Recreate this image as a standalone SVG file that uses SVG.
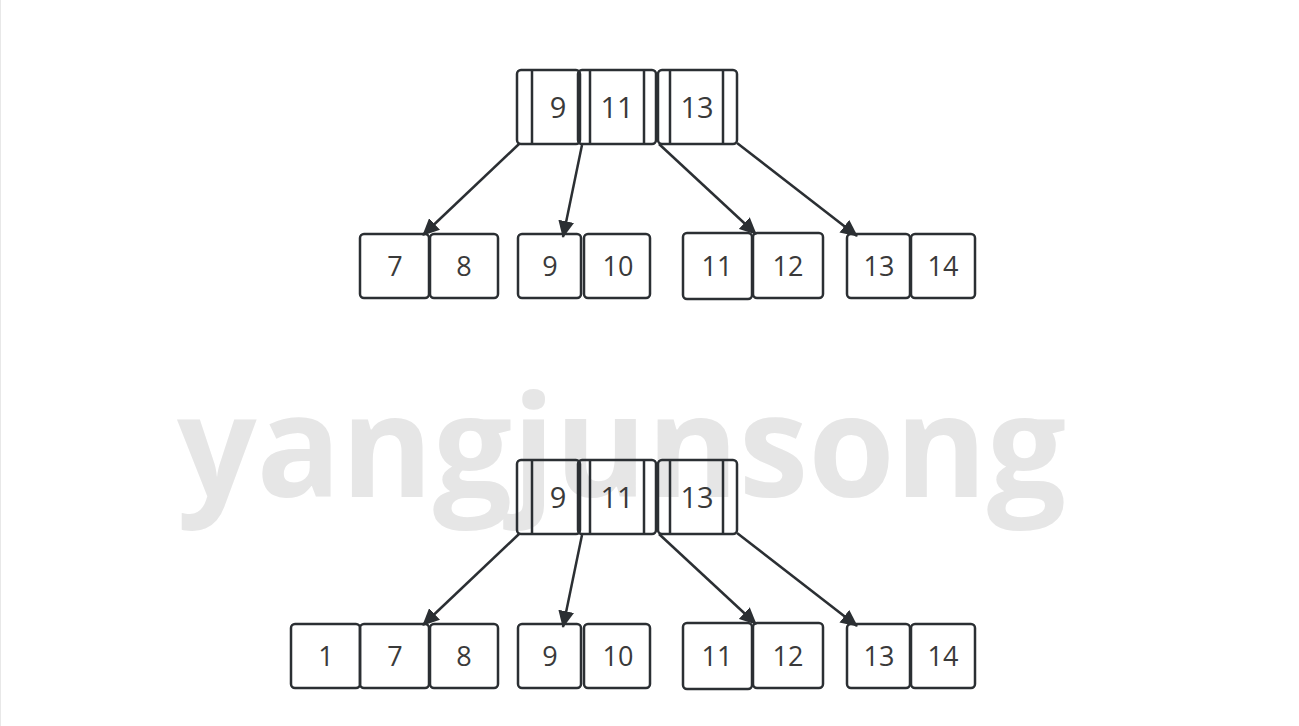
<svg xmlns="http://www.w3.org/2000/svg" width="1299" height="726" viewBox="0 0 1299 726">
<defs>
<style>
.b{fill:none;stroke:#2b2f33;stroke-width:2.5}
.l{stroke:#2b2f33;stroke-width:2.5}
.t{font-family:"Open Sans","Noto Sans",sans-serif;font-size:27px;font-weight:400;fill:#3a3a3a;text-anchor:middle;dominant-baseline:central}
.r{font-size:29px}
.c{stroke:#2b2f33;stroke-width:2.5;fill:none;marker-end:url(#ah)}
.wm{font-family:"Open Sans","Noto Sans",sans-serif;font-weight:bold;font-size:142px;fill:#e6e6e6}
</style>
<marker id="ah" markerUnits="userSpaceOnUse" markerWidth="18" markerHeight="16" refX="16" refY="8" orient="auto">
<path d="M0,0 L17,8 L0,16 Z" fill="#2b2f33"/>
</marker>
<g id="rootShape">
<rect class="b" x="517" y="70" width="63" height="74" rx="4"/>
<line class="l" x1="532" y1="70" x2="532" y2="144"/>
<rect class="b" x="578" y="70" width="78" height="74" rx="4"/>
<line class="l" x1="590" y1="70" x2="590" y2="144"/>
<line class="l" x1="644" y1="70" x2="644" y2="144"/>
<rect class="b" x="658" y="70" width="79" height="74" rx="4"/>
<line class="l" x1="670" y1="70" x2="670" y2="144"/>
<line class="l" x1="723" y1="70" x2="723" y2="144"/>
<text class="t r" x="558" y="106">9</text>
<text class="t r" x="617" y="106">11</text>
<text class="t r" x="697" y="106">13</text>
</g>
</defs>
<rect x="0" y="0" width="1299" height="726" fill="#fff"/>
<line x1="0.5" y1="0" x2="0.5" y2="726" stroke="#e8e8e8" stroke-width="1"/>
<text class="wm" x="177" y="497" textLength="889" lengthAdjust="spacingAndGlyphs">yangjunsong</text>

<g id="top-root"><use href="#rootShape"/></g>
<g id="top-leaf-7-8">
<rect class="b" x="360" y="234" width="69" height="64" rx="4"/><text class="t" x="395" y="265">7</text>
<rect class="b" x="430" y="234" width="68" height="64" rx="4"/><text class="t" x="464" y="265">8</text>
</g>
<g id="top-leaf-9-10">
<rect class="b" x="518" y="234" width="63" height="64" rx="4"/><text class="t" x="550" y="265">9</text>
<rect class="b" x="584" y="234" width="66" height="64" rx="4"/><text class="t" x="618" y="265">10</text>
</g>
<g id="top-leaf-11-12">
<rect class="b" x="683" y="233" width="69" height="66" rx="4"/><text class="t" x="717" y="265">11</text>
<rect class="b" x="753" y="233" width="70" height="65" rx="4"/><text class="t" x="788" y="265">12</text>
</g>
<g id="top-leaf-13-14">
<rect class="b" x="847" y="234" width="63" height="64" rx="4"/><text class="t" x="879" y="265">13</text>
<rect class="b" x="911" y="234" width="64" height="64" rx="4"/><text class="t" x="943" y="265">14</text>
</g>

<g id="bottom-root"><use href="#rootShape" y="390"/></g>
<g id="bottom-leaf-1-7-8">
<rect class="b" x="291" y="624" width="69" height="64" rx="4"/><text class="t" x="326" y="655">1</text>
<rect class="b" x="360" y="624" width="69" height="64" rx="4"/><text class="t" x="395" y="655">7</text>
<rect class="b" x="430" y="624" width="68" height="64" rx="4"/><text class="t" x="464" y="655">8</text>
</g>
<g id="bottom-leaf-9-10">
<rect class="b" x="518" y="624" width="63" height="64" rx="4"/><text class="t" x="550" y="655">9</text>
<rect class="b" x="584" y="624" width="66" height="64" rx="4"/><text class="t" x="618" y="655">10</text>
</g>
<g id="bottom-leaf-11-12">
<rect class="b" x="683" y="623" width="69" height="66" rx="4"/><text class="t" x="717" y="655">11</text>
<rect class="b" x="753" y="623" width="70" height="65" rx="4"/><text class="t" x="788" y="655">12</text>
</g>
<g id="bottom-leaf-13-14">
<rect class="b" x="847" y="624" width="63" height="64" rx="4"/><text class="t" x="879" y="655">13</text>
<rect class="b" x="911" y="624" width="64" height="64" rx="4"/><text class="t" x="943" y="655">14</text>
</g>

<g id="connectors">
<line class="c" x1="519" y1="144" x2="423" y2="235"/>
<line class="c" x1="582" y1="145" x2="563" y2="237"/>
<line class="c" x1="659" y1="144" x2="756" y2="234"/>
<line class="c" x1="737" y1="143" x2="857" y2="236"/>
<line class="c" x1="519" y1="534" x2="423" y2="625"/>
<line class="c" x1="582" y1="535" x2="563" y2="627"/>
<line class="c" x1="659" y1="534" x2="756" y2="624"/>
<line class="c" x1="737" y1="533" x2="857" y2="626"/>
</g>
</svg>
